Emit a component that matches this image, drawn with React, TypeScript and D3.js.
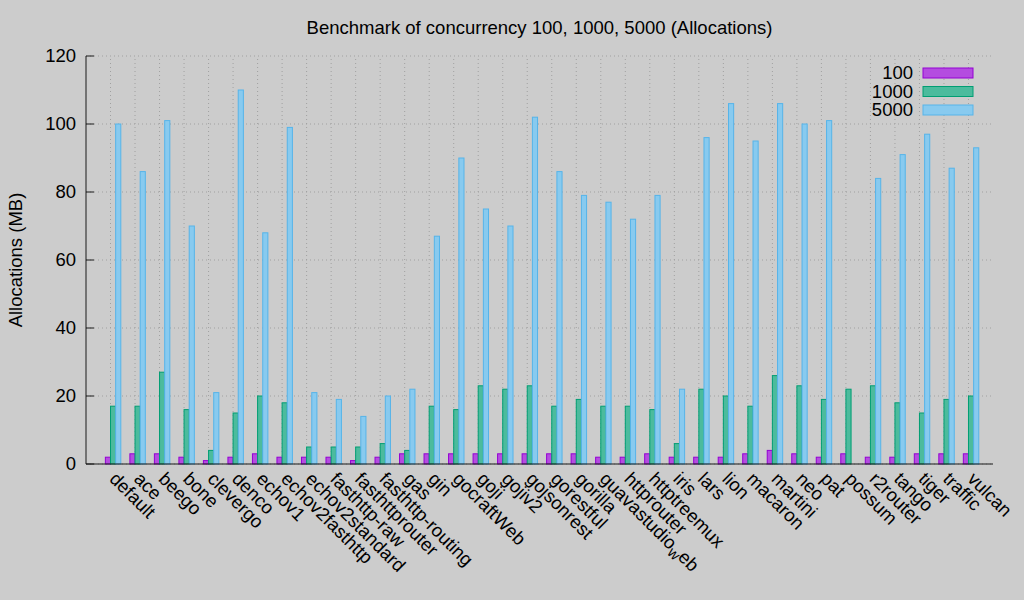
import React from "react";
import * as d3 from "d3";

const categories = [
  "default", "ace", "beego", "bone", "clevergo", "denco", "echov1", "echov2fasthttp",
  "echov2standard", "fasthttp-raw", "fasthttprouter", "fasthttp-routing", "gas", "gin",
  "gocraftWeb", "goji", "gojiv2", "gojsonrest", "gorestful", "gorilla", "guavastudio_web",
  "httprouter", "httptreemux", "iris", "lars", "lion", "macaron", "martini", "neo", "pat",
  "possum", "r2router", "tango", "tiger", "traffic", "vulcan",
];

const c100 = [2, 3, 3, 2, 1, 2, 3, 2, 2, 2, 1, 2, 3, 3, 3, 3, 3, 3, 3, 3, 2, 2, 3, 2, 2, 2, 3, 4, 3, 2, 3, 2, 2, 3, 3, 3];
const c1000 = [17, 17, 27, 16, 4, 15, 20, 18, 5, 5, 5, 6, 4, 17, 16, 23, 22, 23, 17, 19, 17, 17, 16, 6, 22, 20, 17, 26, 23, 19, 22, 23, 18, 15, 19, 20];
const c5000: (number | null)[] = [100, 86, 101, 70, 21, 110, 68, 99, 21, 19, 14, 20, 22, 67, 90, 75, 70, 102, 86, 79, 77, 72, 79, 22, 96, 106, 95, 106, 100, 101, null, 84, 91, 97, 87, 93];

const seriesNames = ["100", "1000", "5000"];
const yTicks = [0, 20, 40, 60, 80, 100, 120];

const strokeColors = ["#9400d3", "#009e73", "#56b4e9"];
const fillColors = ["#b44ce0", "#4cbb9d", "#88caef"];

const FONT = "'Liberation Sans', Arial, Helvetica, sans-serif";
const FS = 18.5;

function Label({ text, x, y }: { text: string; x: number; y: number }) {
  const parts = text.split("_");
  return (
    <text
      x={x}
      y={y}
      transform={`rotate(45 ${x} ${y})`}
      fontSize={FS}
      fontFamily={FONT}
      fill="#000"
    >
      {parts.length === 1 ? (
        text
      ) : (
        <>
          {parts[0]}
          <tspan dy={4} fontSize={15}>{parts[1].charAt(0)}</tspan>
          <tspan dy={-4}>{parts[1].slice(1)}</tspan>
        </>
      )}
    </text>
  );
}

export default function App() {
  const W = 1024;
  const H = 600;
  const left = 86;
  const right = 993;
  const top = 56;
  const bottom = 464;

  const x = d3.scaleLinear().domain([-1, 36]).range([left, right]);
  const y = d3.scaleLinear().domain([0, 120]).range([bottom, top]);
  const bw = 0.21;

  const allSeries = [c100, c1000, c5000];
  const offsets = [-bw, 0, bw];

  return (
    <div style={{ position: "absolute", left: 0, top: 0, width: W, height: H }}>
      <svg width={W} height={H} style={{ display: "block" }}>
        <rect x={0} y={0} width={W} height={H} fill="#cccccc" />

        {/* grid */}
        {yTicks.map((t) => (
          <line
            key={"hg" + t}
            x1={left}
            x2={right}
            y1={y(t)}
            y2={y(t)}
            stroke="#a0a0a0"
            strokeWidth={1}
            strokeDasharray="1,3"
          />
        ))}
        {categories.map((c, i) => (
          <line
            key={"vg" + c}
            x1={x(i)}
            x2={x(i)}
            y1={bottom}
            y2={top}
            stroke="#a0a0a0"
            strokeWidth={1}
            strokeDasharray="1,3"
          />
        ))}

        {/* bars */}
        {allSeries.map((s, si) =>
          s.map((v, i) =>
            v == null ? null : (
              <rect
                key={`b${si}-${i}`}
                x={x(i + offsets[si])}
                y={y(v)}
                width={x(bw) - x(0)}
                height={y(0) - y(v)}
                fill={fillColors[si]}
                stroke={strokeColors[si]}
                strokeWidth={1}
              />
            )
          )
        )}

        {/* axes */}
        <line x1={left} x2={left} y1={top} y2={bottom} stroke="#1a1a1a" strokeWidth={1} />
        <line x1={left} x2={right} y1={bottom} y2={bottom} stroke="#1a1a1a" strokeWidth={1} />
        {yTicks.map((t) => (
          <g key={"yt" + t}>
            <line x1={left} x2={left + 8} y1={y(t)} y2={y(t)} stroke="#1a1a1a" strokeWidth={1} />
            <text
              x={left - 10}
              y={y(t)}
              dy="0.35em"
              textAnchor="end"
              fontSize={FS}
              fontFamily={FONT}
              fill="#000"
            >
              {t}
            </text>
          </g>
        ))}

        {/* x labels */}
        {categories.map((c, i) => (
          <Label key={"xl" + c} text={c} x={x(i) - 2} y={480} />
        ))}

        {/* y label */}
        <text
          transform={`translate(22 ${(top + bottom) / 2}) rotate(-90)`}
          textAnchor="middle"
          fontSize={FS}
          fontFamily={FONT}
          fill="#000"
        >
          Allocations (MB)
        </text>

        {/* title */}
        <text
          x={(left + right) / 2}
          y={34}
          textAnchor="middle"
          fontSize={FS}
          fontFamily={FONT}
          fill="#000"
        >
          Benchmark of concurrency 100, 1000, 5000 (Allocations)
        </text>

        {/* legend */}
        {seriesNames.map((n, si) => {
          const cy = 73 + si * 18.5;
          return (
            <g key={"lg" + n}>
              <text
                x={913}
                y={cy}
                dy="0.35em"
                textAnchor="end"
                fontSize={FS}
                fontFamily={FONT}
                fill="#000"
              >
                {n}
              </text>
              <rect
                x={923}
                y={cy - 5}
                width={50}
                height={10}
                fill={fillColors[si]}
                stroke={strokeColors[si]}
                strokeWidth={1}
              />
            </g>
          );
        })}
      </svg>
    </div>
  );
}
